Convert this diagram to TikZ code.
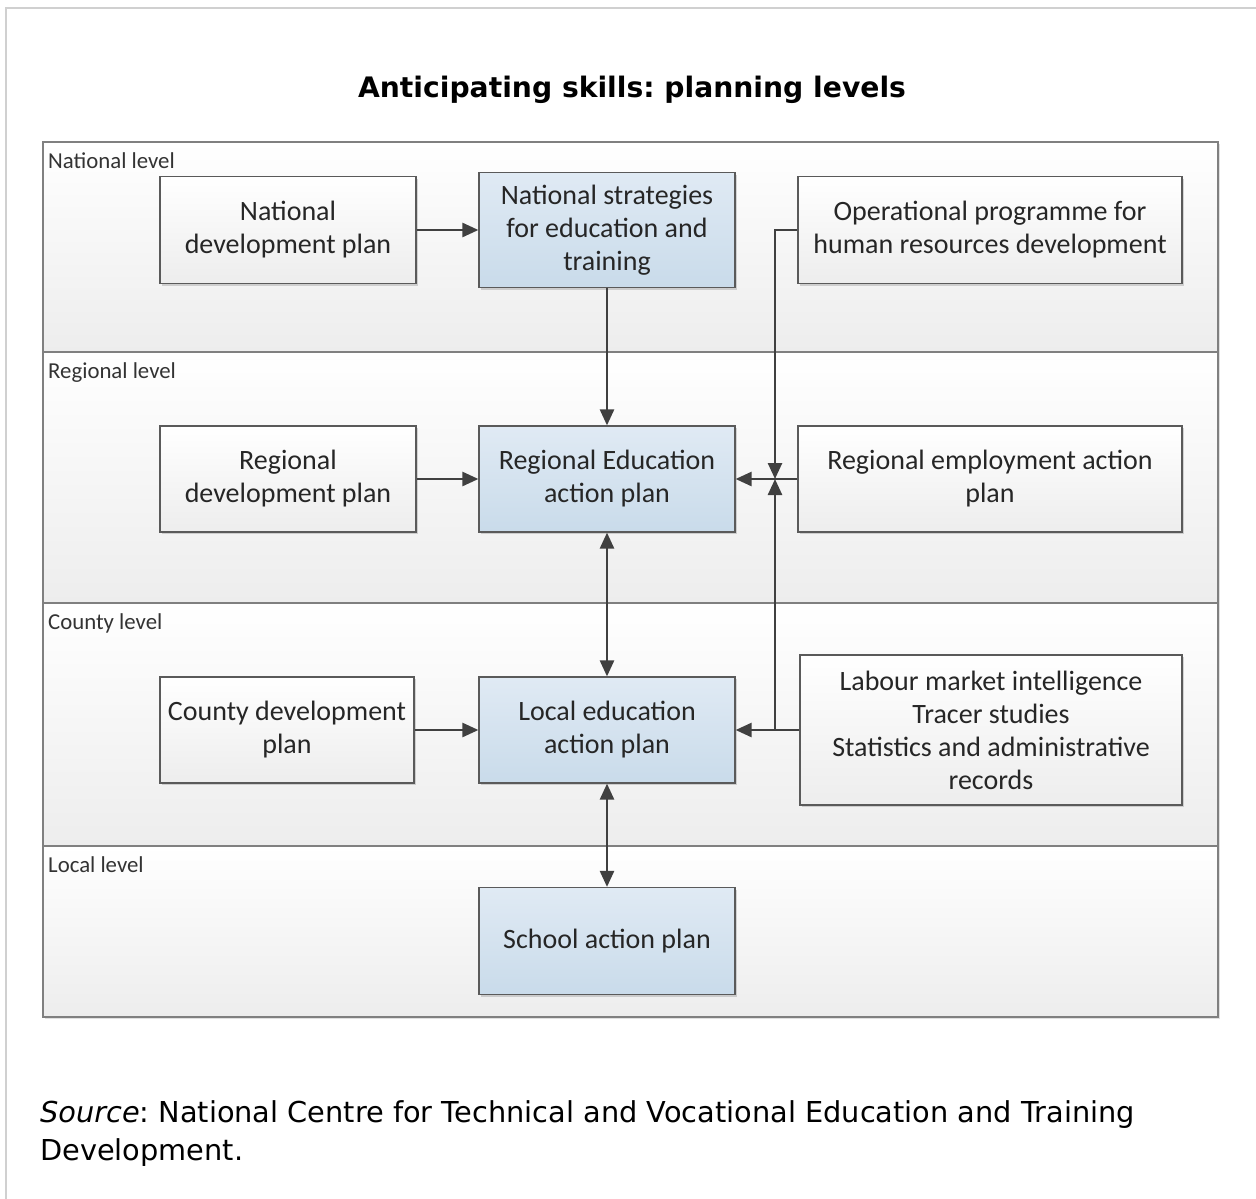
\documentclass[tikz,border=0pt]{standalone}
\usepackage{fontspec}
\setmainfont{Carlito}
\newfontfamily\webfont{DejaVu Sans}
\usetikzlibrary{arrows.meta,shadows}
\frenchspacing

\definecolor{framegray}{HTML}{D0D0D0}
\definecolor{bandedge}{HTML}{808080}
\definecolor{boxedge}{HTML}{5A5A5A}
\definecolor{arrowgray}{HTML}{404040}
\definecolor{bluetop}{HTML}{E0EAF4}
\definecolor{bluebot}{HTML}{C9DBEA}
\definecolor{graybot}{HTML}{EDEDED}

\tikzset{
  band/.style={draw=bandedge, line width=1.2pt, top color=white, bottom color=graybot,
    drop shadow={shadow xshift=2pt, shadow yshift=-2pt, fill=black, opacity=0.12}},
  levellabel/.style={anchor=north west, inner sep=0pt, text=black!80,
    font=\fontsize{22.8}{26}\selectfont},
  plainbox/.style={draw=boxedge, line width=1.2pt, top color=white, bottom color=graybot,
    align=center, inner sep=0pt, text=black!85,
    font=\fontsize{28}{33}\selectfont,
    drop shadow={shadow xshift=2pt, shadow yshift=-2pt, fill=black, opacity=0.15}},
  bluebox/.style={plainbox, top color=bluetop, bottom color=bluebot},
  link/.style={draw=arrowgray, line width=2.5pt,
    -{Triangle[length=16pt,width=14pt]}},
  twoway/.style={link, {Triangle[length=16pt,width=14pt]}-{Triangle[length=16pt,width=14pt]}}
}

\begin{document}
\begin{tikzpicture}[x=1pt, y=-1pt]
\useasboundingbox (0,0) rectangle (1256,1199);
\fill[white] (0,0) rectangle (1256,1199);

% page frame
\draw[framegray, line width=2pt] (6,1210) -- (6,8) -- (1270,8);

% title
\node[font=\webfont\bfseries\fontsize{28.2}{32}\selectfont] (title) at (632,90)
  {Anticipating skills: planning levels};

% level bands
\path[band] (43,142) rectangle (1218,352);
\path[band] (43,352) rectangle (1218,603);
\path[band] (43,603) rectangle (1218,846);
\path[band] (43,846) rectangle (1218,1017);

\node[levellabel] (lnat) at (48,152) {National level};
\node[levellabel] (lreg) at (48,362) {Regional level};
\node[levellabel] (lcty) at (48,613) {County level};
\node[levellabel] (lloc) at (48,856) {Local level};

% national level
\node[plainbox, minimum width=256pt, minimum height=107pt] (ndp) at (288,230)
  {National\\development plan};
\node[bluebox, minimum width=256pt, minimum height=115pt] (nst) at (607,230)
  {National strategies\\for education and\\training};
\node[plainbox, minimum width=384pt, minimum height=107pt] (opr) at (990,230)
  {Operational programme for\\human resources development};

% regional level
\node[plainbox, minimum width=256pt, minimum height=106pt] (rdp) at (288,479)
  {Regional\\development plan};
\node[bluebox, minimum width=256pt, minimum height=106pt] (reap) at (607,479)
  {Regional Education\\action plan};
\node[plainbox, minimum width=384pt, minimum height=106pt] (remp) at (990,479)
  {Regional employment action\\plan};

% county level
\node[plainbox, minimum width=254pt, minimum height=106pt] (cdp) at (287,730)
  {County development\\plan};
\node[bluebox, minimum width=256pt, minimum height=106pt] (leap) at (607,730)
  {Local education\\action plan};
\node[plainbox, minimum width=382pt, minimum height=150pt] (lmi) at (991,730)
  {Labour market intelligence\\Tracer studies\\Statistics and administrative\\records};

% local level
\node[bluebox, minimum width=256pt, minimum height=107pt] (sap) at (607,941)
  {School action plan};

% connectors
\coordinate (join) at (775,479);
\draw[link] (ndp) -- (nst);
\draw[link] (nst) -- (reap);
\draw[link] (rdp) -- (reap);
\draw[link] (remp) -- (reap);
\draw[link] (opr.west) -| (join);
\draw[link] (lmi.west) -| (join);
\draw[link] (lmi) -- (leap);
\draw[link] (cdp) -- (leap);
\draw[twoway] (reap) -- (leap);
\draw[twoway] (leap) -- (sap);

% source note
\node[anchor=base west, align=left, inner sep=0pt,
      font=\webfont\fontsize{28.8}{38}\selectfont] (src) at (40,1160)
  {\textit{Source}: National Centre for Technical and Vocational Education and Training\\Development.};
\end{tikzpicture}
\end{document}
